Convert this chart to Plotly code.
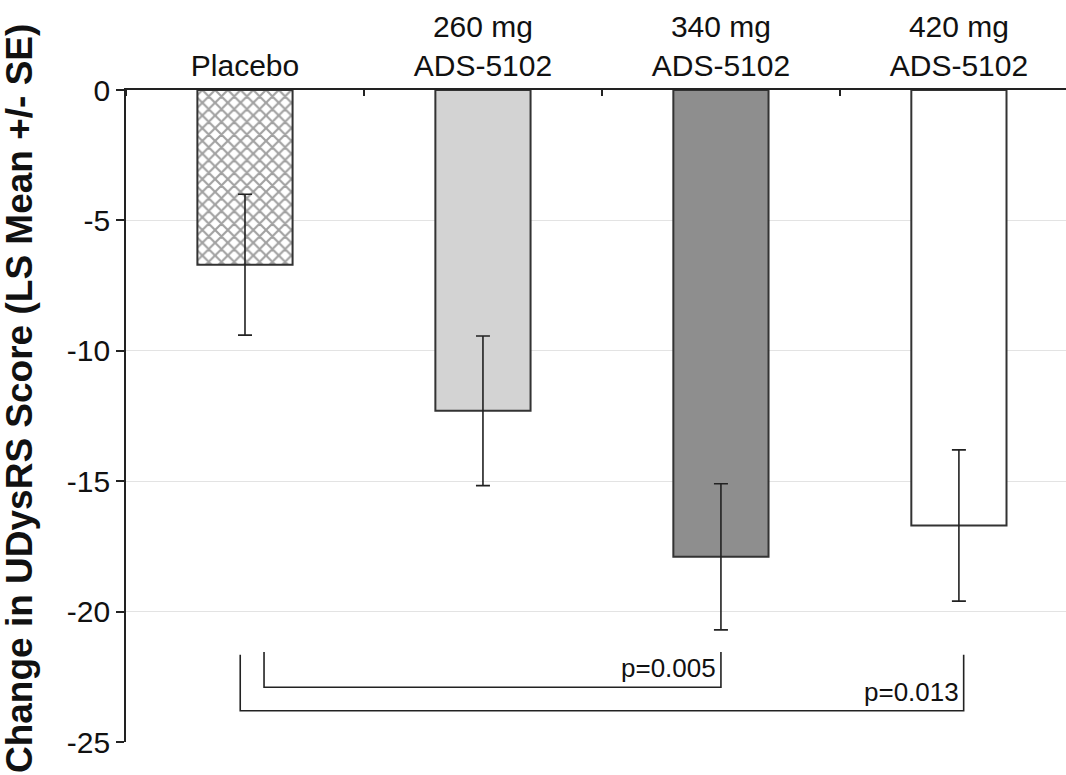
import plotly.graph_objects as go

# ---- data ----
categories = ["Placebo", "260 mg<br>ADS-5102", "340 mg<br>ADS-5102", "420 mg<br>ADS-5102"]
ls_mean = [-6.7, -12.3, -17.9, -16.7]
se = [2.7, 2.87, 2.8, 2.9]
y_ticks = [0, -5, -10, -15, -20, -25]
y_tick_labels = ["0", "-5", "-10", "-15", "-20", "-25"]

# significance brackets (x in category-index units, y in score units)
bracket_left_x = [0.08, -0.02]
bracket_right_x = [2.0, 3.02]
bracket_top_y = [-21.55, -21.65]
bracket_bottom_y = [-22.9, -23.8]
p_labels = ["p=0.005", "p=0.013"]
p_label_y = [-22.15, -23.1]

# ---- styles ----
bar_colors = ["white", "#d3d3d3", "#8e8e8e", "white"]
pattern_shapes = ["x", "", "", ""]
FONT = "Liberation Sans, Arial, Helvetica, sans-serif"

x_pos = list(range(len(categories)))

fig = go.Figure()
fig.add_trace(go.Bar(
    x=x_pos,
    y=ls_mean,
    width=0.40,
    marker=dict(
        color=bar_colors,
        line=dict(color="#333333", width=2),
        pattern=dict(shape=pattern_shapes, fgcolor="#000000", bgcolor="white",
                     size=9, solidity=0.42, fillmode="overlay"),
    ),
    error_y=dict(type="data", array=se, visible=True, color="#222222",
                 thickness=1.6, width=7),
    showlegend=False,
))

for xl, xr, yt, yb in zip(bracket_left_x, bracket_right_x, bracket_top_y, bracket_bottom_y):
    fig.add_trace(go.Scatter(
        x=[xl, xl, xr, xr],
        y=[yt, yb, yb, yt],
        mode="lines",
        line=dict(color="#222222", width=1.6),
        showlegend=False,
        hoverinfo="skip",
    ))

for xr, py, txt in zip(bracket_right_x, p_label_y, p_labels):
    fig.add_annotation(x=xr, y=py, xref="x", yref="y", text=txt, showarrow=False,
                       xanchor="right", yanchor="middle", xshift=-3,
                       font=dict(family=FONT, size=26, color="#111111"))

fig.add_annotation(
    xref="paper", yref="paper", x=0, y=0.526, xshift=-107,
    text="<b>Change in UDysRS Score (LS Mean +/- SE)</b>",
    textangle=-90, showarrow=False, xanchor="center", yanchor="middle",
    font=dict(family=FONT, size=37, color="#111111"),
)

fig.update_layout(
    width=1066, height=775,
    margin=dict(l=126, r=0, t=90, b=33),
    paper_bgcolor="white", plot_bgcolor="white",
    font=dict(family=FONT, size=30, color="#111111"),
    xaxis=dict(
        side="top",
        range=[-0.5, 3.45],
        tickvals=x_pos,
        ticktext=categories,
        ticks="",
        showline=True, linecolor="#222222", linewidth=1.6,
        showgrid=False, zeroline=False,
        tickfont=dict(size=30),
        minor=dict(ticks="inside", tick0=0.5, dtick=1, ticklen=6,
                   tickcolor="#222222", tickwidth=1.6, showgrid=False),
    ),
    yaxis=dict(
        range=[-25, 0],
        tickvals=y_ticks,
        ticktext=y_tick_labels,
        ticks="outside", ticklen=8, tickcolor="#222222", tickwidth=1.6,
        showline=True, linecolor="#222222", linewidth=1.6,
        showgrid=True, gridcolor="#e3e3e3", gridwidth=1,
        zeroline=False,
        tickfont=dict(size=30),
    ),
    bargap=0.6,
)

fig.write_html("out.html", config={"displayModeBar": False},
               post_script="document.body.style.margin='0px';")
